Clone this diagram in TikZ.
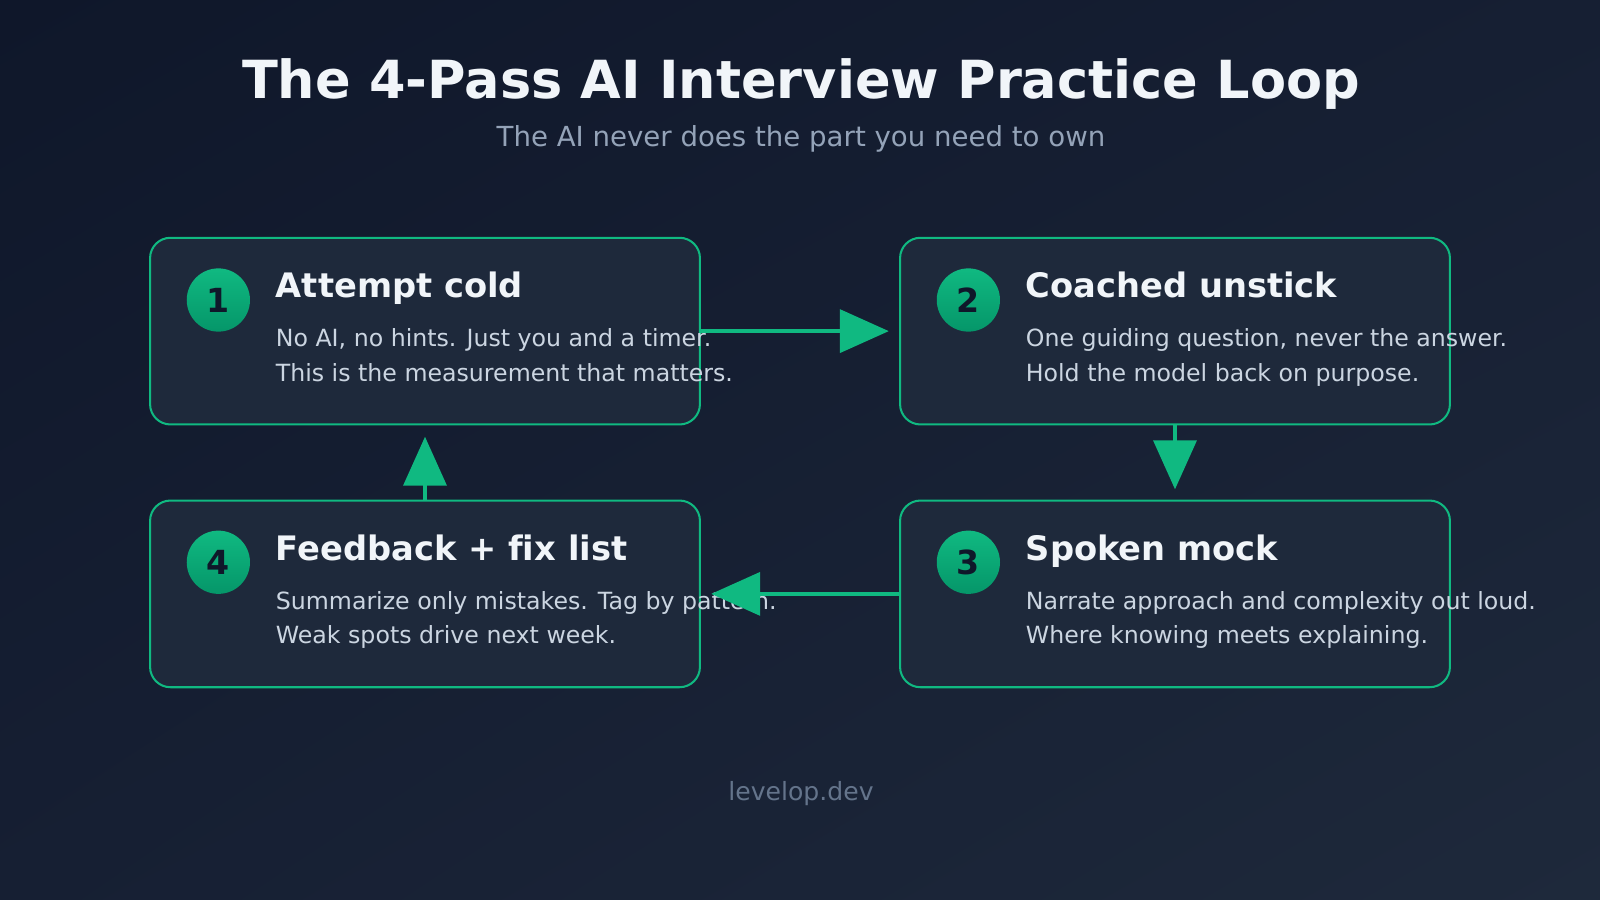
\documentclass[tikz,border=0pt]{standalone}
\usepackage{fontspec}
\setmainfont[Ligatures=NoCommon]{DejaVu Sans}
\usetikzlibrary{arrows.meta,shadings}
\definecolor{bgA}{HTML}{0F172A}
\definecolor{bgB}{HTML}{1E293B}
\definecolor{bgM}{HTML}{161F33}
\definecolor{boxfill}{HTML}{1E293B}
\definecolor{grn}{HTML}{10B981}
\definecolor{grnD}{HTML}{059669}
\definecolor{ttl}{HTML}{F1F5F9}
\definecolor{sub}{HTML}{94A3B8}
\definecolor{bodyc}{HTML}{CBD5E1}
\definecolor{foot}{HTML}{64748B}
\definecolor{num}{HTML}{0F172A}
\begin{document}
\begin{tikzpicture}[x=0.02cm,y=-0.02cm,
  box/.style={draw=grn,fill=boxfill,line width=0.04cm,rounded corners=0.4cm,minimum width=10.78cm,minimum height=3.66cm,inner sep=0pt},
  badge/.style={circle,minimum size=1.24cm,inner sep=0pt,top color=grn,bottom color=grnD,text=num,font=\fontsize{18.5}{18}\selectfont\bfseries},
  btitle/.style={anchor=base west,inner sep=0pt,text=ttl,font=\fontsize{18.8}{20}\selectfont\bfseries},
  bbody/.style={anchor=base west,inner sep=0pt,text=bodyc,font=\fontsize{13.2}{15}\selectfont},
  arr/.style={draw=grn,line width=0.08cm,-{Triangle[length=0.96cm,width=0.84cm]}}]
\shade[upper left=bgA,lower right=bgB,upper right=bgM,lower left=bgM] (0,0) rectangle (1568,882);
\useasboundingbox (0,0) rectangle (1568,882);
\node[anchor=base,text=ttl,font=\fontsize{29.3}{32}\selectfont\bfseries,inner sep=0pt] (title) at (785,97) {The 4-Pass AI Interview Practice Loop};
\node[anchor=base,text=sub,font=\fontsize{15.4}{18}\selectfont,inner sep=0pt] (subt) at (785,144) {The AI never does the part you need to own};

\node[box] (b1) at (416.5,324.5) {};
\node[box] (b2) at (1151.5,324.5) {};
\node[box] (b3) at (1151.5,582) {};
\node[box] (b4) at (416.5,582) {};

\node[badge] (c1) at (214,294) {1};
\node[badge] (c2) at (949,294) {2};
\node[badge] (c3) at (949,551) {3};
\node[badge] (c4) at (214,551) {4};

\node[btitle] (t1) at (270,292) {Attempt cold};
\node[bbody] (d1a) at (270,340) {No AI, no hints. Just you and a timer.};
\node[bbody] (d1b) at (270,374) {This is the measurement that matters.};
\node[btitle] (t2) at (1005,292) {Coached unstick};
\node[bbody] (d2a) at (1005,340) {One guiding question, never the answer.};
\node[bbody] (d2b) at (1005,374) {Hold the model back on purpose.};
\node[btitle] (t3) at (1005,549) {Spoken mock};
\node[bbody] (d3a) at (1005,597) {Narrate approach and complexity out loud.};
\node[bbody] (d3b) at (1005,631) {Where knowing meets explaining.};
\node[btitle] (t4) at (270,549) {Feedback + fix list};
\node[bbody] (d4a) at (270,597) {Summarize only mistakes. Tag by pattern.};
\node[bbody] (d4b) at (270,631) {Weak spots drive next week.};

\node[anchor=base,text=foot,font=\fontsize{14}{16}\selectfont,inner sep=0pt] (ft) at (785,784) {levelop.dev};

\draw[arr,shorten >=0.2cm] (b1.east) -- (b2.west);
\draw[arr,shorten >=0.2cm] (b2.south) -- (b3.north);
\draw[arr,shorten >=0.2cm] (b3.west) -- (b4.east);
\draw[arr,shorten >=0.22cm] (b4.north) -- (b1.south);
\end{tikzpicture}
\end{document}
